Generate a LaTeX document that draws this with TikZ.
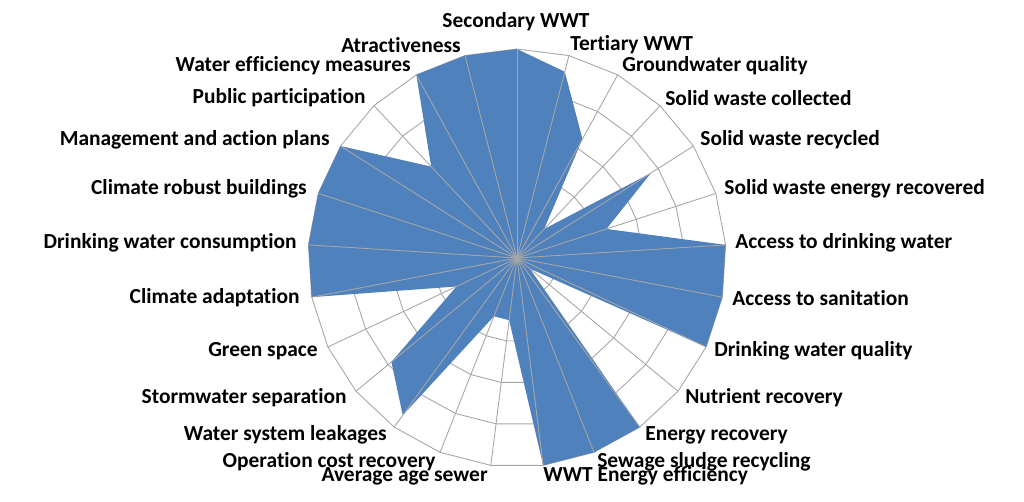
\documentclass[tikz,border=0pt]{standalone}
\usepackage{fontspec}
\setmainfont[Ligatures=NoCommon]{Carlito}
\usetikzlibrary{calc}
\definecolor{radarblue}{RGB}{79,129,189}
\tikzset{
  lbl/.style={font=\fontsize{12.2}{14}\selectfont\bfseries, inner sep=0pt},
  gridline/.style={draw=black!35, line width=0.5pt},
}
\begin{document}
\begin{tikzpicture}[x=0.02cm, y=0.02cm]
    \useasboundingbox (0,0) rectangle (1024,501);
    \coordinate (O) at (517,243);

    \begin{scope}[shift={(517,243)}]
      % rings
      \foreach \r in {1,...,5} {
          \draw[gridline] (90:\r*41.8)
            \foreach \i in {1,...,24} { -- ({90-14.4*\i}:\r*41.8) } -- cycle;
        }
      % data
      \fill[radarblue] (90:209)
        \foreach \v [count=\i] in {0.92,0.65,0.19,0.76,0.45,1,1,1,0.08,1,1,1,0.3,0.3,0.93,0.78,0.32,1,1,1,1,0.6,1,1}
          { -- ({90-14.4*\i}:\v*209) } -- cycle;
      % spokes
      \foreach \i in {0,...,24} {
          \draw[gridline] (0,0) -- ({90-14.4*\i}:209);
        }
    \end{scope}

    \node[lbl] (l0) at (516,479) {Secondary WWT};
    \node[lbl, anchor=west] (l1) at (570,456) {Tertiary WWT};
    \node[lbl, anchor=west] (l2) at (622,435) {Groundwater quality};
    \node[lbl, anchor=west] (l3) at (665,403) {Solid waste collected};
    \node[lbl, anchor=west] (l4) at (700,361) {Solid waste recycled};
    \node[lbl, anchor=west] (l5) at (724,312) {Solid waste energy recovered};
    \node[lbl, anchor=west] (l6) at (735,258) {Access to drinking water};
    \node[lbl, anchor=west] (l7) at (732,203) {Access to sanitation};
    \node[lbl, anchor=west] (l8) at (714,150) {Drinking water quality};
    \node[lbl, anchor=west] (l9) at (685,103) {Nutrient recovery};
    \node[lbl, anchor=west] (l10) at (645,66) {Energy recovery};
    \node[lbl, anchor=west] (l11) at (597,39) {Sewage sludge recycling};
    \node[lbl, anchor=west] (l12) at (543,25) {WWT Energy efficiency};
    \node[lbl, anchor=east] (l13) at (488,25) {Average age sewer};
    \node[lbl, anchor=east] (l14) at (436,39) {Operation cost recovery};
    \node[lbl, anchor=east] (l15) at (387,66) {Water system leakages};
    \node[lbl, anchor=east] (l16) at (347,103) {Stormwater separation};
    \node[lbl, anchor=east] (l17) at (318,150) {Green space};
    \node[lbl, anchor=east] (l18) at (300,203) {Climate adaptation};
    \node[lbl, anchor=east] (l19) at (297,258) {Drinking water consumption};
    \node[lbl, anchor=east] (l20) at (307,312) {Climate robust buildings};
    \node[lbl, anchor=east] (l21) at (330,361) {Management and action plans};
    \node[lbl, anchor=east] (l22) at (366,403) {Public participation};
    \node[lbl, anchor=east] (l23) at (411,435) {Water efficiency measures};
    \node[lbl, anchor=east] (l24) at (461,456) {Atractiveness};
\end{tikzpicture}
\end{document}
